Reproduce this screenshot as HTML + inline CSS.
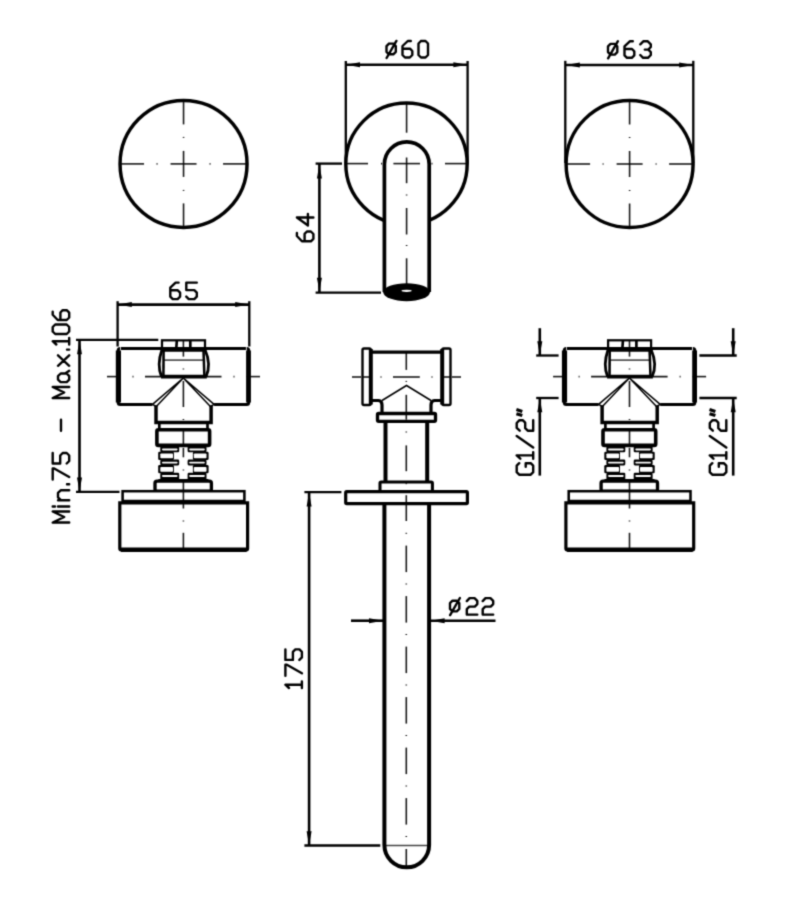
<!DOCTYPE html>
<html><head><meta charset="utf-8"><style>
html,body{margin:0;padding:0;background:#fff;}
svg{display:block;}
</style></head><body>
<svg width="789" height="900" viewBox="0 0 789 900">
<defs><filter id="bl" x="0" y="0" width="789" height="900" filterUnits="userSpaceOnUse" color-interpolation-filters="sRGB"><feConvolveMatrix order="3" kernelMatrix="1 4 1 4 16 4 1 4 1" divisor="36" edgeMode="none"/></filter></defs>
<rect width="789" height="900" fill="#fff"/>
<g filter="url(#bl)">
<circle cx="183.55" cy="163.9" r="63.5" fill="none" stroke="#000" stroke-width="3.46"/>
<line x1="119.55" y1="163.90" x2="144.05" y2="163.90" stroke="#1a1a1a" stroke-width="1.60" style="mix-blend-mode:multiply"/>
<line x1="156.55" y1="163.90" x2="157.55" y2="163.90" stroke="#1a1a1a" stroke-width="1.60" style="mix-blend-mode:multiply"/>
<line x1="170.55" y1="163.90" x2="196.55" y2="163.90" stroke="#1a1a1a" stroke-width="1.60" style="mix-blend-mode:multiply"/>
<line x1="209.55" y1="163.90" x2="210.55" y2="163.90" stroke="#1a1a1a" stroke-width="1.60" style="mix-blend-mode:multiply"/>
<line x1="223.05" y1="163.90" x2="247.55" y2="163.90" stroke="#1a1a1a" stroke-width="1.60" style="mix-blend-mode:multiply"/>
<line x1="183.55" y1="99.90" x2="183.55" y2="124.40" stroke="#1a1a1a" stroke-width="1.60" style="mix-blend-mode:multiply"/>
<line x1="183.55" y1="136.90" x2="183.55" y2="137.90" stroke="#1a1a1a" stroke-width="1.60" style="mix-blend-mode:multiply"/>
<line x1="183.55" y1="150.90" x2="183.55" y2="176.90" stroke="#1a1a1a" stroke-width="1.60" style="mix-blend-mode:multiply"/>
<line x1="183.55" y1="189.90" x2="183.55" y2="190.90" stroke="#1a1a1a" stroke-width="1.60" style="mix-blend-mode:multiply"/>
<line x1="183.55" y1="203.40" x2="183.55" y2="227.90" stroke="#1a1a1a" stroke-width="1.60" style="mix-blend-mode:multiply"/>
<circle cx="629.6" cy="164.0" r="63.5" fill="none" stroke="#000" stroke-width="3.46"/>
<line x1="565.60" y1="164.00" x2="590.10" y2="164.00" stroke="#1a1a1a" stroke-width="1.60" style="mix-blend-mode:multiply"/>
<line x1="602.60" y1="164.00" x2="603.60" y2="164.00" stroke="#1a1a1a" stroke-width="1.60" style="mix-blend-mode:multiply"/>
<line x1="616.60" y1="164.00" x2="642.60" y2="164.00" stroke="#1a1a1a" stroke-width="1.60" style="mix-blend-mode:multiply"/>
<line x1="655.60" y1="164.00" x2="656.60" y2="164.00" stroke="#1a1a1a" stroke-width="1.60" style="mix-blend-mode:multiply"/>
<line x1="669.10" y1="164.00" x2="693.60" y2="164.00" stroke="#1a1a1a" stroke-width="1.60" style="mix-blend-mode:multiply"/>
<line x1="629.60" y1="100.00" x2="629.60" y2="124.50" stroke="#1a1a1a" stroke-width="1.60" style="mix-blend-mode:multiply"/>
<line x1="629.60" y1="137.00" x2="629.60" y2="138.00" stroke="#1a1a1a" stroke-width="1.60" style="mix-blend-mode:multiply"/>
<line x1="629.60" y1="151.00" x2="629.60" y2="177.00" stroke="#1a1a1a" stroke-width="1.60" style="mix-blend-mode:multiply"/>
<line x1="629.60" y1="190.00" x2="629.60" y2="191.00" stroke="#1a1a1a" stroke-width="1.60" style="mix-blend-mode:multiply"/>
<line x1="629.60" y1="203.50" x2="629.60" y2="228.00" stroke="#1a1a1a" stroke-width="1.60" style="mix-blend-mode:multiply"/>
<line x1="565.30" y1="60.80" x2="565.30" y2="163.00" stroke="#000" stroke-width="2.30"/>
<line x1="693.30" y1="60.80" x2="693.30" y2="163.00" stroke="#000" stroke-width="2.30"/>
<line x1="566.00" y1="65.00" x2="693.00" y2="65.00" stroke="#000" stroke-width="2.60"/>
<path d="M566.00,65.00 L579.80,62.50 L579.80,67.50 Z" fill="#000"/>
<path d="M693.00,65.00 L679.20,67.50 L679.20,62.50 Z" fill="#000"/>
<circle cx="406.5" cy="163.8" r="60.7" fill="none" stroke="#000" stroke-width="3.46"/>
<path d="M384.4,292 L384.4,164.3 A22.4,22.4 0 0 1 429.2,164.3 L429.2,292" fill="#fff" stroke="#000" stroke-width="3.72" />
<ellipse cx="406.6" cy="292.2" rx="23.3" ry="9" fill="#000"/>
<ellipse cx="406.6" cy="290.8" rx="5.1" ry="1.1" fill="#fff"/>
<line x1="346.00" y1="163.60" x2="368.00" y2="163.60" stroke="#1a1a1a" stroke-width="1.60" style="mix-blend-mode:multiply"/>
<line x1="381.00" y1="163.60" x2="382.00" y2="163.60" stroke="#1a1a1a" stroke-width="1.60" style="mix-blend-mode:multiply"/>
<line x1="393.40" y1="163.60" x2="420.00" y2="163.60" stroke="#1a1a1a" stroke-width="1.60" style="mix-blend-mode:multiply"/>
<line x1="431.50" y1="163.60" x2="432.50" y2="163.60" stroke="#1a1a1a" stroke-width="1.60" style="mix-blend-mode:multiply"/>
<line x1="445.00" y1="163.60" x2="467.00" y2="163.60" stroke="#1a1a1a" stroke-width="1.60" style="mix-blend-mode:multiply"/>
<line x1="406.60" y1="103.00" x2="406.60" y2="132.70" stroke="#1a1a1a" stroke-width="1.60" style="mix-blend-mode:multiply"/>
<line x1="406.60" y1="157.50" x2="406.60" y2="183.20" stroke="#1a1a1a" stroke-width="1.60" style="mix-blend-mode:multiply"/>
<line x1="406.60" y1="194.50" x2="406.60" y2="195.50" stroke="#1a1a1a" stroke-width="1.60" style="mix-blend-mode:multiply"/>
<line x1="406.60" y1="208.00" x2="406.60" y2="234.50" stroke="#1a1a1a" stroke-width="1.60" style="mix-blend-mode:multiply"/>
<line x1="406.60" y1="245.00" x2="406.60" y2="246.00" stroke="#1a1a1a" stroke-width="1.60" style="mix-blend-mode:multiply"/>
<line x1="406.60" y1="258.30" x2="406.60" y2="284.00" stroke="#1a1a1a" stroke-width="1.60" style="mix-blend-mode:multiply"/>
<line x1="345.80" y1="61.00" x2="345.80" y2="163.40" stroke="#000" stroke-width="2.30"/>
<line x1="467.60" y1="61.00" x2="467.60" y2="163.40" stroke="#000" stroke-width="2.30"/>
<line x1="346.00" y1="64.80" x2="467.00" y2="64.80" stroke="#000" stroke-width="2.60"/>
<path d="M346.20,64.80 L360.00,62.30 L360.00,67.30 Z" fill="#000"/>
<path d="M467.20,64.80 L453.40,67.30 L453.40,62.30 Z" fill="#000"/>
<line x1="315.60" y1="163.60" x2="342.00" y2="163.60" stroke="#000" stroke-width="2.30"/>
<line x1="315.60" y1="292.70" x2="381.00" y2="292.70" stroke="#000" stroke-width="2.30"/>
<line x1="319.40" y1="164.00" x2="319.40" y2="292.00" stroke="#000" stroke-width="2.60"/>
<path d="M319.40,164.80 L321.90,178.60 L316.90,178.60 Z" fill="#000"/>
<path d="M319.40,291.60 L316.90,277.80 L321.90,277.80 Z" fill="#000"/>
<path d="M121.00,348.5 L245.70,348.5" fill="none" stroke="#000" stroke-width="3.19" />
<path d="M120.20,348.5 Q118.20,348.5 118.20,350.5 L118.20,402.5 Q118.20,404.5 120.20,404.5 L152.50,404.5" fill="none" stroke="#000" stroke-width="3.06" />
<path d="M246.70,348.5 Q248.70,348.5 248.70,350.5 L248.70,402.5 Q248.70,404.5 246.70,404.5 L214.10,404.5" fill="none" stroke="#000" stroke-width="3.06" />
<path d="M118.40,350.5 L118.40,402.5" fill="none" stroke="#000" stroke-width="5.19" />
<path d="M248.50,350.5 L248.50,402.5" fill="none" stroke="#000" stroke-width="4.79" />
<path d="M183.30,378 L152.50,404.3 L156.30,406.5 Z" fill="none" stroke="#000" stroke-width="1.53" stroke-linejoin="round"/>
<path d="M183.30,378 L214.10,404.3 L210.40,406.5 Z" fill="none" stroke="#000" stroke-width="1.53" stroke-linejoin="round"/>
<path d="M156.00,405.5 L156.00,422.6 L211.10,422.6 L211.10,405.5" fill="none" stroke="#000" stroke-width="3.46" />
<path d="M159.30,422.6 L159.30,429.7 M207.50,422.6 L207.50,429.7" fill="none" stroke="#000" stroke-width="2.66" />
<rect x="156.90" y="429.7" width="52.7" height="15.7" rx="1.5" fill="none" stroke="#000" stroke-width="3.59"/>
<rect x="160.30" y="446.30" width="18.90" height="5.90" rx="1.3" fill="#000"/>
<rect x="187.60" y="446.30" width="18.90" height="5.90" rx="1.3" fill="#000"/>
<rect x="158.20" y="451.70" width="15.70" height="8.40" rx="1.3" fill="#000"/>
<rect x="192.90" y="451.70" width="15.70" height="8.40" rx="1.3" fill="#000"/>
<rect x="160.30" y="459.60" width="18.90" height="5.80" rx="1.3" fill="#000"/>
<rect x="187.60" y="459.60" width="18.90" height="5.80" rx="1.3" fill="#000"/>
<rect x="158.20" y="464.90" width="15.70" height="8.30" rx="1.3" fill="#000"/>
<rect x="192.90" y="464.90" width="15.70" height="8.30" rx="1.3" fill="#000"/>
<rect x="160.30" y="472.70" width="18.90" height="7.10" rx="1.3" fill="#000"/>
<rect x="187.60" y="472.70" width="18.90" height="7.10" rx="1.3" fill="#000"/>
<rect x="162.00" y="448.40" width="15.60" height="2.00" rx="0.8" fill="#fff"/>
<rect x="189.20" y="448.40" width="15.60" height="2.00" rx="0.8" fill="#fff"/>
<rect x="160.30" y="453.50" width="12.70" height="4.70" rx="0.8" fill="#fff"/>
<rect x="193.80" y="453.50" width="12.70" height="4.70" rx="0.8" fill="#fff"/>
<rect x="162.00" y="461.70" width="15.60" height="1.90" rx="0.8" fill="#fff"/>
<rect x="189.20" y="461.70" width="15.60" height="1.90" rx="0.8" fill="#fff"/>
<rect x="160.30" y="467.10" width="12.70" height="4.70" rx="0.8" fill="#fff"/>
<rect x="193.80" y="467.10" width="12.70" height="4.70" rx="0.8" fill="#fff"/>
<rect x="162.00" y="474.90" width="15.60" height="2.00" rx="0.8" fill="#fff"/>
<rect x="189.20" y="474.90" width="15.60" height="2.00" rx="0.8" fill="#fff"/>
<rect x="158.40" y="479" width="50" height="2.5" fill="#000"/>
<rect x="155.00" y="481.2" width="56.4" height="10" rx="2" fill="#fff" stroke="#000" stroke-width="3.33"/>
<rect x="122.60" y="491.2" width="121.8" height="10.4" fill="#fff" stroke="#000" stroke-width="2.53"/>
<path d="M122.60,501.6 L244.40,501.6" fill="none" stroke="#000" stroke-width="3.46" />
<path d="M119.80,502.8 L119.80,548.5 Q119.80,550.2 122.50,550.2 L245.00,550.2 Q247.60,550.2 247.60,548.5 L247.60,502.8 Z" fill="none" stroke="#000" stroke-width="3.19" />
<path d="M121.00,549.8 L246.50,549.8" fill="none" stroke="#000" stroke-width="4.52" />
<rect x="162.00" y="340.3" width="43.0" height="8.2" fill="none" stroke="#000" stroke-width="2.26"/>
<path d="M176.80,341 L176.30,348 M190.30,341 L190.30,348" fill="none" stroke="#000" stroke-width="2.66" />
<path d="M121.00,348.5 L245.70,348.5" fill="none" stroke="#000" stroke-width="3.19" />
<path d="M161.50,350.5 L205.50,350.5" fill="none" stroke="#000" stroke-width="2.66" />
<path d="M161.00,376.6 L206.80,376.6" fill="none" stroke="#000" stroke-width="3.72" />
<path d="M162.00,349.5 Q156.60,365 161.50,376.6" fill="none" stroke="#000" stroke-width="2.79" />
<path d="M163.60,350 L163.40,376.6" fill="none" stroke="#000" stroke-width="2.53" />
<path d="M205.00,349.5 Q211.60,365 206.00,376.6" fill="none" stroke="#000" stroke-width="2.79" />
<path d="M203.50,350 L204.40,376.6" fill="none" stroke="#000" stroke-width="2.53" />
<line x1="163.50" y1="360.20" x2="204.50" y2="360.20" stroke="#555" stroke-width="1.68" style="mix-blend-mode:multiply"/>
<line x1="107.00" y1="376.60" x2="116.50" y2="376.60" stroke="#1a1a1a" stroke-width="1.60" style="mix-blend-mode:multiply"/>
<line x1="132.50" y1="376.60" x2="133.50" y2="376.60" stroke="#1a1a1a" stroke-width="1.60" style="mix-blend-mode:multiply"/>
<line x1="145.00" y1="376.60" x2="221.50" y2="376.60" stroke="#1a1a1a" stroke-width="1.60" style="mix-blend-mode:multiply"/>
<line x1="233.50" y1="376.60" x2="234.50" y2="376.60" stroke="#1a1a1a" stroke-width="1.60" style="mix-blend-mode:multiply"/>
<line x1="246.50" y1="376.60" x2="260.00" y2="376.60" stroke="#1a1a1a" stroke-width="1.60" style="mix-blend-mode:multiply"/>
<line x1="183.40" y1="341.00" x2="183.40" y2="347.00" stroke="#1a1a1a" stroke-width="1.60" style="mix-blend-mode:multiply"/>
<line x1="183.40" y1="349.00" x2="183.40" y2="356.60" stroke="#1a1a1a" stroke-width="1.60" style="mix-blend-mode:multiply"/>
<line x1="183.40" y1="368.50" x2="183.40" y2="369.50" stroke="#1a1a1a" stroke-width="1.60" style="mix-blend-mode:multiply"/>
<line x1="183.40" y1="381.00" x2="183.40" y2="407.00" stroke="#1a1a1a" stroke-width="1.60" style="mix-blend-mode:multiply"/>
<line x1="183.40" y1="419.00" x2="183.40" y2="420.00" stroke="#1a1a1a" stroke-width="1.60" style="mix-blend-mode:multiply"/>
<line x1="183.40" y1="430.00" x2="183.40" y2="445.50" stroke="#1a1a1a" stroke-width="1.60" style="mix-blend-mode:multiply"/>
<line x1="183.40" y1="447.80" x2="183.40" y2="457.30" stroke="#1a1a1a" stroke-width="1.60" style="mix-blend-mode:multiply"/>
<line x1="183.40" y1="469.50" x2="183.40" y2="470.50" stroke="#1a1a1a" stroke-width="1.60" style="mix-blend-mode:multiply"/>
<line x1="183.40" y1="481.00" x2="183.40" y2="508.50" stroke="#1a1a1a" stroke-width="1.60" style="mix-blend-mode:multiply"/>
<line x1="183.40" y1="520.50" x2="183.40" y2="521.50" stroke="#1a1a1a" stroke-width="1.60" style="mix-blend-mode:multiply"/>
<line x1="183.40" y1="532.80" x2="183.40" y2="549.00" stroke="#1a1a1a" stroke-width="1.60" style="mix-blend-mode:multiply"/>
<path d="M567.10,348.5 L691.80,348.5" fill="none" stroke="#000" stroke-width="3.19" />
<path d="M566.30,348.5 Q564.30,348.5 564.30,350.5 L564.30,402.5 Q564.30,404.5 566.30,404.5 L598.60,404.5" fill="none" stroke="#000" stroke-width="3.06" />
<path d="M692.80,348.5 Q694.80,348.5 694.80,350.5 L694.80,402.5 Q694.80,404.5 692.80,404.5 L660.20,404.5" fill="none" stroke="#000" stroke-width="3.06" />
<path d="M564.50,350.5 L564.50,402.5" fill="none" stroke="#000" stroke-width="5.19" />
<path d="M694.60,350.5 L694.60,402.5" fill="none" stroke="#000" stroke-width="4.79" />
<path d="M629.40,378 L598.60,404.3 L602.40,406.5 Z" fill="none" stroke="#000" stroke-width="1.53" stroke-linejoin="round"/>
<path d="M629.40,378 L660.20,404.3 L656.50,406.5 Z" fill="none" stroke="#000" stroke-width="1.53" stroke-linejoin="round"/>
<path d="M602.10,405.5 L602.10,422.6 L657.20,422.6 L657.20,405.5" fill="none" stroke="#000" stroke-width="3.46" />
<path d="M605.40,422.6 L605.40,429.7 M653.60,422.6 L653.60,429.7" fill="none" stroke="#000" stroke-width="2.66" />
<rect x="603.00" y="429.7" width="52.7" height="15.7" rx="1.5" fill="none" stroke="#000" stroke-width="3.59"/>
<rect x="606.40" y="446.30" width="18.90" height="5.90" rx="1.3" fill="#000"/>
<rect x="633.70" y="446.30" width="18.90" height="5.90" rx="1.3" fill="#000"/>
<rect x="604.30" y="451.70" width="15.70" height="8.40" rx="1.3" fill="#000"/>
<rect x="639.00" y="451.70" width="15.70" height="8.40" rx="1.3" fill="#000"/>
<rect x="606.40" y="459.60" width="18.90" height="5.80" rx="1.3" fill="#000"/>
<rect x="633.70" y="459.60" width="18.90" height="5.80" rx="1.3" fill="#000"/>
<rect x="604.30" y="464.90" width="15.70" height="8.30" rx="1.3" fill="#000"/>
<rect x="639.00" y="464.90" width="15.70" height="8.30" rx="1.3" fill="#000"/>
<rect x="606.40" y="472.70" width="18.90" height="7.10" rx="1.3" fill="#000"/>
<rect x="633.70" y="472.70" width="18.90" height="7.10" rx="1.3" fill="#000"/>
<rect x="608.10" y="448.40" width="15.60" height="2.00" rx="0.8" fill="#fff"/>
<rect x="635.30" y="448.40" width="15.60" height="2.00" rx="0.8" fill="#fff"/>
<rect x="606.40" y="453.50" width="12.70" height="4.70" rx="0.8" fill="#fff"/>
<rect x="639.90" y="453.50" width="12.70" height="4.70" rx="0.8" fill="#fff"/>
<rect x="608.10" y="461.70" width="15.60" height="1.90" rx="0.8" fill="#fff"/>
<rect x="635.30" y="461.70" width="15.60" height="1.90" rx="0.8" fill="#fff"/>
<rect x="606.40" y="467.10" width="12.70" height="4.70" rx="0.8" fill="#fff"/>
<rect x="639.90" y="467.10" width="12.70" height="4.70" rx="0.8" fill="#fff"/>
<rect x="608.10" y="474.90" width="15.60" height="2.00" rx="0.8" fill="#fff"/>
<rect x="635.30" y="474.90" width="15.60" height="2.00" rx="0.8" fill="#fff"/>
<rect x="604.50" y="479" width="50" height="2.5" fill="#000"/>
<rect x="601.10" y="481.2" width="56.4" height="10" rx="2" fill="#fff" stroke="#000" stroke-width="3.33"/>
<rect x="568.70" y="491.2" width="121.8" height="10.4" fill="#fff" stroke="#000" stroke-width="2.53"/>
<path d="M568.70,501.6 L690.50,501.6" fill="none" stroke="#000" stroke-width="3.46" />
<path d="M565.90,502.8 L565.90,548.5 Q565.90,550.2 568.60,550.2 L691.10,550.2 Q693.70,550.2 693.70,548.5 L693.70,502.8 Z" fill="none" stroke="#000" stroke-width="3.19" />
<path d="M567.10,549.8 L692.60,549.8" fill="none" stroke="#000" stroke-width="4.52" />
<rect x="608.10" y="340.3" width="43.0" height="8.2" fill="none" stroke="#000" stroke-width="2.26"/>
<path d="M622.90,341 L622.40,348 M636.40,341 L636.40,348" fill="none" stroke="#000" stroke-width="2.66" />
<path d="M567.10,348.5 L691.80,348.5" fill="none" stroke="#000" stroke-width="3.19" />
<path d="M607.60,350.5 L651.60,350.5" fill="none" stroke="#000" stroke-width="2.66" />
<path d="M607.10,376.6 L652.90,376.6" fill="none" stroke="#000" stroke-width="3.72" />
<path d="M608.10,349.5 Q602.70,365 607.60,376.6" fill="none" stroke="#000" stroke-width="2.79" />
<path d="M609.70,350 L609.50,376.6" fill="none" stroke="#000" stroke-width="2.53" />
<path d="M651.10,349.5 Q657.70,365 652.10,376.6" fill="none" stroke="#000" stroke-width="2.79" />
<path d="M649.60,350 L650.50,376.6" fill="none" stroke="#000" stroke-width="2.53" />
<line x1="609.60" y1="360.20" x2="650.60" y2="360.20" stroke="#555" stroke-width="1.68" style="mix-blend-mode:multiply"/>
<line x1="553.10" y1="376.60" x2="562.60" y2="376.60" stroke="#1a1a1a" stroke-width="1.60" style="mix-blend-mode:multiply"/>
<line x1="578.60" y1="376.60" x2="579.60" y2="376.60" stroke="#1a1a1a" stroke-width="1.60" style="mix-blend-mode:multiply"/>
<line x1="591.10" y1="376.60" x2="667.60" y2="376.60" stroke="#1a1a1a" stroke-width="1.60" style="mix-blend-mode:multiply"/>
<line x1="679.60" y1="376.60" x2="680.60" y2="376.60" stroke="#1a1a1a" stroke-width="1.60" style="mix-blend-mode:multiply"/>
<line x1="692.60" y1="376.60" x2="706.10" y2="376.60" stroke="#1a1a1a" stroke-width="1.60" style="mix-blend-mode:multiply"/>
<line x1="629.50" y1="341.00" x2="629.50" y2="347.00" stroke="#1a1a1a" stroke-width="1.60" style="mix-blend-mode:multiply"/>
<line x1="629.50" y1="349.00" x2="629.50" y2="356.60" stroke="#1a1a1a" stroke-width="1.60" style="mix-blend-mode:multiply"/>
<line x1="629.50" y1="368.50" x2="629.50" y2="369.50" stroke="#1a1a1a" stroke-width="1.60" style="mix-blend-mode:multiply"/>
<line x1="629.50" y1="381.00" x2="629.50" y2="407.00" stroke="#1a1a1a" stroke-width="1.60" style="mix-blend-mode:multiply"/>
<line x1="629.50" y1="419.00" x2="629.50" y2="420.00" stroke="#1a1a1a" stroke-width="1.60" style="mix-blend-mode:multiply"/>
<line x1="629.50" y1="430.00" x2="629.50" y2="445.50" stroke="#1a1a1a" stroke-width="1.60" style="mix-blend-mode:multiply"/>
<line x1="629.50" y1="447.80" x2="629.50" y2="457.30" stroke="#1a1a1a" stroke-width="1.60" style="mix-blend-mode:multiply"/>
<line x1="629.50" y1="469.50" x2="629.50" y2="470.50" stroke="#1a1a1a" stroke-width="1.60" style="mix-blend-mode:multiply"/>
<line x1="629.50" y1="481.00" x2="629.50" y2="508.50" stroke="#1a1a1a" stroke-width="1.60" style="mix-blend-mode:multiply"/>
<line x1="629.50" y1="520.50" x2="629.50" y2="521.50" stroke="#1a1a1a" stroke-width="1.60" style="mix-blend-mode:multiply"/>
<line x1="629.50" y1="532.80" x2="629.50" y2="549.00" stroke="#1a1a1a" stroke-width="1.60" style="mix-blend-mode:multiply"/>
<line x1="117.60" y1="301.20" x2="117.60" y2="346.50" stroke="#000" stroke-width="2.30"/>
<line x1="249.30" y1="301.20" x2="249.30" y2="346.50" stroke="#000" stroke-width="2.30"/>
<line x1="118.00" y1="304.60" x2="249.00" y2="304.60" stroke="#000" stroke-width="2.60"/>
<path d="M118.00,304.60 L131.80,302.10 L131.80,307.10 Z" fill="#000"/>
<path d="M249.00,304.60 L235.20,307.10 L235.20,302.10 Z" fill="#000"/>
<line x1="76.00" y1="339.90" x2="158.30" y2="339.90" stroke="#000" stroke-width="2.30"/>
<line x1="76.00" y1="491.90" x2="119.50" y2="491.90" stroke="#000" stroke-width="2.30"/>
<line x1="79.50" y1="340.50" x2="79.50" y2="491.50" stroke="#000" stroke-width="2.60"/>
<path d="M79.50,340.50 L82.00,354.30 L77.00,354.30 Z" fill="#000"/>
<path d="M79.50,491.30 L77.00,477.50 L82.00,477.50 Z" fill="#000"/>
<line x1="536.20" y1="355.50" x2="558.60" y2="355.50" stroke="#000" stroke-width="2.30"/>
<line x1="536.20" y1="398.00" x2="558.60" y2="398.00" stroke="#000" stroke-width="2.30"/>
<line x1="539.80" y1="328.20" x2="539.80" y2="355.00" stroke="#000" stroke-width="2.60"/>
<line x1="539.80" y1="398.50" x2="539.80" y2="475.60" stroke="#000" stroke-width="2.60"/>
<path d="M539.80,355.00 L537.30,341.20 L542.30,341.20 Z" fill="#000"/>
<path d="M539.80,398.50 L542.30,412.30 L537.30,412.30 Z" fill="#000"/>
<line x1="699.40" y1="355.50" x2="736.70" y2="355.50" stroke="#000" stroke-width="2.30"/>
<line x1="699.40" y1="398.00" x2="736.70" y2="398.00" stroke="#000" stroke-width="2.30"/>
<line x1="733.20" y1="328.20" x2="733.20" y2="355.00" stroke="#000" stroke-width="2.60"/>
<line x1="733.20" y1="398.50" x2="733.20" y2="475.60" stroke="#000" stroke-width="2.60"/>
<path d="M733.20,355.00 L730.70,341.20 L735.70,341.20 Z" fill="#000"/>
<path d="M733.20,398.50 L735.70,412.30 L730.70,412.30 Z" fill="#000"/>
<rect x="362.5" y="348.5" width="8.3" height="56.5" rx="1.5" fill="none" stroke="#000" stroke-width="2.39"/>
<rect x="442.2" y="348.5" width="8.3" height="56.5" rx="1.5" fill="none" stroke="#000" stroke-width="2.39"/>
<path d="M370.8,349 L370.8,404.5" fill="none" stroke="#000" stroke-width="3.99" />
<path d="M442.2,349 L442.2,404.5" fill="none" stroke="#000" stroke-width="3.99" />
<path d="M371,352.2 L442,352.2" fill="none" stroke="#000" stroke-width="3.19" />
<path d="M371,400.5 L378.5,400.5 Q382,400.8 382,405 L382,413.3" fill="none" stroke="#000" stroke-width="3.19" />
<path d="M442,400.5 L434.5,400.5 Q431,400.8 431,405 L431,413.3" fill="none" stroke="#000" stroke-width="3.19" />
<path d="M382,400.5 L406.5,385.5 L431,400.5" fill="none" stroke="#000" stroke-width="1.53" />
<rect x="377.5" y="413.5" width="58" height="7.8" rx="1.2" fill="#fff" stroke="#000" stroke-width="3.33"/>
<path d="M385.5,421.5 L385.5,481.5 M427.2,421.5 L427.2,481.5" fill="none" stroke="#000" stroke-width="3.99" />
<rect x="380" y="482" width="52.4" height="9.6" rx="1.2" fill="#fff" stroke="#000" stroke-width="3.06"/>
<rect x="345.7" y="491.7" width="121.7" height="11.9" rx="1" fill="#fff" stroke="#000" stroke-width="3.19"/>
<path d="M384.4,503.8 L384.4,845 A22.35,22.35 0 0 0 429.1,845 L429.1,503.8" fill="none" stroke="#000" stroke-width="3.99" />
<line x1="385.50" y1="845.60" x2="428.00" y2="845.60" stroke="#444" stroke-width="1.54" style="mix-blend-mode:multiply"/>
<line x1="352.00" y1="377.00" x2="361.00" y2="377.00" stroke="#1a1a1a" stroke-width="1.60" style="mix-blend-mode:multiply"/>
<line x1="363.00" y1="377.00" x2="370.00" y2="377.00" stroke="#1a1a1a" stroke-width="1.60" style="mix-blend-mode:multiply"/>
<line x1="380.50" y1="377.00" x2="381.50" y2="377.00" stroke="#1a1a1a" stroke-width="1.60" style="mix-blend-mode:multiply"/>
<line x1="393.00" y1="377.00" x2="419.80" y2="377.00" stroke="#1a1a1a" stroke-width="1.60" style="mix-blend-mode:multiply"/>
<line x1="431.50" y1="377.00" x2="432.50" y2="377.00" stroke="#1a1a1a" stroke-width="1.60" style="mix-blend-mode:multiply"/>
<line x1="443.00" y1="377.00" x2="450.00" y2="377.00" stroke="#1a1a1a" stroke-width="1.60" style="mix-blend-mode:multiply"/>
<line x1="452.00" y1="377.00" x2="461.00" y2="377.00" stroke="#1a1a1a" stroke-width="1.60" style="mix-blend-mode:multiply"/>
<line x1="406.30" y1="353.00" x2="406.30" y2="369.90" stroke="#1a1a1a" stroke-width="1.60" style="mix-blend-mode:multiply"/>
<line x1="406.30" y1="380.90" x2="406.30" y2="381.90" stroke="#1a1a1a" stroke-width="1.60" style="mix-blend-mode:multiply"/>
<line x1="406.30" y1="394.80" x2="406.30" y2="419.70" stroke="#1a1a1a" stroke-width="1.60" style="mix-blend-mode:multiply"/>
<line x1="406.30" y1="431.50" x2="406.30" y2="432.50" stroke="#1a1a1a" stroke-width="1.60" style="mix-blend-mode:multiply"/>
<line x1="406.30" y1="445.40" x2="406.30" y2="471.20" stroke="#1a1a1a" stroke-width="1.60" style="mix-blend-mode:multiply"/>
<line x1="406.30" y1="483.20" x2="406.30" y2="484.20" stroke="#1a1a1a" stroke-width="1.60" style="mix-blend-mode:multiply"/>
<line x1="406.30" y1="495.20" x2="406.30" y2="521.00" stroke="#1a1a1a" stroke-width="1.60" style="mix-blend-mode:multiply"/>
<line x1="406.30" y1="532.80" x2="406.30" y2="533.80" stroke="#1a1a1a" stroke-width="1.60" style="mix-blend-mode:multiply"/>
<line x1="406.30" y1="545.60" x2="406.30" y2="572.10" stroke="#1a1a1a" stroke-width="1.60" style="mix-blend-mode:multiply"/>
<line x1="406.30" y1="596.10" x2="406.30" y2="622.60" stroke="#1a1a1a" stroke-width="1.60" style="mix-blend-mode:multiply"/>
<line x1="406.30" y1="646.60" x2="406.30" y2="673.10" stroke="#1a1a1a" stroke-width="1.60" style="mix-blend-mode:multiply"/>
<line x1="406.30" y1="697.10" x2="406.30" y2="723.60" stroke="#1a1a1a" stroke-width="1.60" style="mix-blend-mode:multiply"/>
<line x1="406.30" y1="747.60" x2="406.30" y2="774.10" stroke="#1a1a1a" stroke-width="1.60" style="mix-blend-mode:multiply"/>
<line x1="406.30" y1="798.10" x2="406.30" y2="824.60" stroke="#1a1a1a" stroke-width="1.60" style="mix-blend-mode:multiply"/>
<line x1="406.30" y1="583.50" x2="406.30" y2="584.50" stroke="#1a1a1a" stroke-width="1.60" style="mix-blend-mode:multiply"/>
<line x1="406.30" y1="634.00" x2="406.30" y2="635.00" stroke="#1a1a1a" stroke-width="1.60" style="mix-blend-mode:multiply"/>
<line x1="406.30" y1="684.50" x2="406.30" y2="685.50" stroke="#1a1a1a" stroke-width="1.60" style="mix-blend-mode:multiply"/>
<line x1="406.30" y1="735.00" x2="406.30" y2="736.00" stroke="#1a1a1a" stroke-width="1.60" style="mix-blend-mode:multiply"/>
<line x1="406.30" y1="785.50" x2="406.30" y2="786.50" stroke="#1a1a1a" stroke-width="1.60" style="mix-blend-mode:multiply"/>
<line x1="406.30" y1="836.00" x2="406.30" y2="837.00" stroke="#1a1a1a" stroke-width="1.60" style="mix-blend-mode:multiply"/>
<line x1="406.30" y1="849.00" x2="406.30" y2="866.00" stroke="#1a1a1a" stroke-width="1.60" style="mix-blend-mode:multiply"/>
<line x1="304.40" y1="492.20" x2="341.40" y2="492.20" stroke="#000" stroke-width="2.30"/>
<line x1="304.40" y1="845.50" x2="380.30" y2="845.50" stroke="#000" stroke-width="2.30"/>
<line x1="309.10" y1="492.80" x2="309.10" y2="845.00" stroke="#000" stroke-width="2.60"/>
<path d="M309.10,492.80 L311.60,506.60 L306.60,506.60 Z" fill="#000"/>
<path d="M309.10,845.00 L306.60,831.20 L311.60,831.20 Z" fill="#000"/>
<line x1="351.00" y1="620.70" x2="383.00" y2="620.70" stroke="#000" stroke-width="2.60"/>
<line x1="431.00" y1="620.70" x2="495.50" y2="620.70" stroke="#000" stroke-width="2.60"/>
<path d="M382.80,620.70 L369.00,623.20 L369.00,618.20 Z" fill="#000"/>
<path d="M430.80,620.70 L444.60,618.20 L444.60,623.20 Z" fill="#000"/>
<path d="M389.00,43.60 L393.30,43.60 L395.80,46.10 L395.80,51.80 L393.30,54.30 L389.00,54.30 L386.50,51.80 L386.50,46.10 L389.00,43.60 M396.40,40.90 L386.60,58.00 M410.80,41.00 L407.80,41.00 L402.50,46.00 L402.50,55.00 L405.00,57.50 L409.80,57.50 L412.30,55.00 L412.30,51.00 L410.00,48.70 L402.80,48.70 M421.00,41.00 L425.50,41.00 L428.00,43.50 L428.00,55.00 L425.50,57.50 L421.00,57.50 L418.50,55.00 L418.50,43.50 L421.00,41.00 M610.50,43.90 L614.80,43.90 L617.30,46.40 L617.30,52.10 L614.80,54.60 L610.50,54.60 L608.00,52.10 L608.00,46.40 L610.50,43.90 M617.90,41.20 L608.10,58.30 M632.80,41.30 L629.80,41.30 L624.50,46.30 L624.50,55.30 L627.00,57.80 L631.80,57.80 L634.30,55.30 L634.30,51.30 L632.00,49.00 L624.80,49.00 M640.30,44.30 L643.30,41.30 L647.80,41.30 L650.80,44.30 L650.80,47.00 L648.30,49.60 L644.80,49.60 M648.30,49.60 L650.80,52.10 L650.80,55.00 L648.00,57.80 L643.10,57.80 L640.30,55.00 M178.60,282.60 L175.60,282.60 L170.30,287.60 L170.30,296.60 L172.80,299.10 L177.60,299.10 L180.10,296.60 L180.10,292.60 L177.80,290.30 L170.60,290.30 M196.80,282.60 L186.30,282.60 L186.30,290.10 L194.30,290.10 L196.80,292.60 L196.80,296.60 L194.30,299.10 L188.80,299.10 L186.30,296.60 M452.50,600.70 L456.80,600.70 L459.30,603.20 L459.30,608.90 L456.80,611.40 L452.50,611.40 L450.00,608.90 L450.00,603.20 L452.50,600.70 M459.90,598.00 L450.10,615.10 M466.80,601.10 L469.60,598.10 L474.50,598.10 L477.30,600.90 L477.30,604.10 L474.80,606.60 L469.30,606.60 L466.80,609.10 L466.80,614.60 L477.30,614.60 M482.70,601.10 L485.50,598.10 L490.40,598.10 L493.20,600.90 L493.20,604.10 L490.70,606.60 L485.20,606.60 L482.70,609.10 L482.70,614.60 L493.20,614.60 M296.90,233.00 L296.90,236.00 L301.90,241.30 L310.90,241.30 L313.40,238.80 L313.40,234.00 L310.90,231.50 L306.90,231.50 L304.60,233.80 L304.60,241.00 M313.40,217.50 L296.90,217.50 L307.90,225.50 L307.90,214.00 M289.00,688.00 L285.40,684.70 L301.90,684.70 M301.90,688.00 L301.90,681.40 M285.40,675.80 L285.40,664.80 L286.90,664.80 L301.90,673.30 M285.40,649.40 L285.40,659.90 L292.90,659.90 L292.90,651.90 L295.40,649.40 L299.40,649.40 L301.90,651.90 L301.90,657.40 L299.40,659.90 M69.20,522.50 L52.70,522.50 L64.20,517.00 L52.70,511.50 L69.20,511.50 M58.00,506.50 L69.20,506.50 M52.70,506.50 L55.00,506.50 M58.00,500.30 L69.20,500.30 M61.20,500.30 L58.00,497.30 L58.00,492.80 L60.70,490.30 L69.20,490.30 M67.00,484.20 L69.20,484.20 M52.70,479.50 L52.70,468.50 L54.20,468.50 L69.20,477.00 M52.70,453.00 L52.70,463.50 L60.20,463.50 L60.20,455.50 L62.70,453.00 L66.70,453.00 L69.20,455.50 L69.20,461.00 L66.70,463.50 M61.00,430.80 L61.00,419.80 M69.20,398.00 L52.70,398.00 L64.20,392.50 L52.70,387.00 L69.20,387.00 M58.00,379.60 L58.00,376.10 L60.70,373.50 L66.70,373.50 L69.20,376.10 L69.20,379.60 L66.70,382.10 L60.70,382.10 L58.00,379.60 M65.20,373.50 L69.20,370.80 M58.00,365.80 L69.20,355.30 M69.20,365.80 L58.00,355.30 M67.00,349.60 L69.20,349.60 M56.30,344.50 L52.70,341.20 L69.20,341.20 M69.20,344.50 L69.20,337.90 M52.70,331.50 L52.70,327.00 L55.20,324.50 L66.70,324.50 L69.20,327.00 L69.20,331.50 L66.70,334.00 L55.20,334.00 L52.70,331.50 M52.70,311.70 L52.70,314.70 L57.70,320.00 L66.70,320.00 L69.20,317.50 L69.20,312.70 L66.70,310.20 L62.70,310.20 L60.40,312.50 L60.40,319.70 M519.20,463.20 L516.70,465.70 L516.70,472.20 L519.20,474.70 L530.70,474.70 L533.20,472.20 L533.20,465.70 L530.70,463.20 L525.70,463.20 L525.70,466.70 M520.30,458.70 L516.70,455.40 L533.20,455.40 M533.20,458.70 L533.20,452.10 M533.20,447.50 L516.70,436.00 M519.70,430.70 L516.70,427.90 L516.70,423.00 L519.50,420.20 L522.70,420.20 L525.20,422.70 L525.20,428.20 L527.70,430.70 L533.20,430.70 L533.20,420.20 M712.30,463.20 L709.80,465.70 L709.80,472.20 L712.30,474.70 L723.80,474.70 L726.30,472.20 L726.30,465.70 L723.80,463.20 L718.80,463.20 L718.80,466.70 M713.40,458.70 L709.80,455.40 L726.30,455.40 M726.30,458.70 L726.30,452.10 M726.30,447.50 L709.80,436.00 M712.80,430.70 L709.80,427.90 L709.80,423.00 L712.60,420.20 L715.80,420.20 L718.30,422.70 L718.30,428.20 L720.80,430.70 L726.30,430.70 L726.30,420.20" fill="none" stroke="#000" stroke-width="2.40" stroke-linecap="round" stroke-linejoin="round"/><path d="M516.40,413.70 L522.30,415.60 M516.40,409.50 L522.30,411.40 M709.50,413.70 L715.40,415.60 M709.50,409.50 L715.40,411.40" fill="none" stroke="#000" stroke-width="3.2" stroke-linecap="butt"/>
</g>
</svg>
</body></html>
